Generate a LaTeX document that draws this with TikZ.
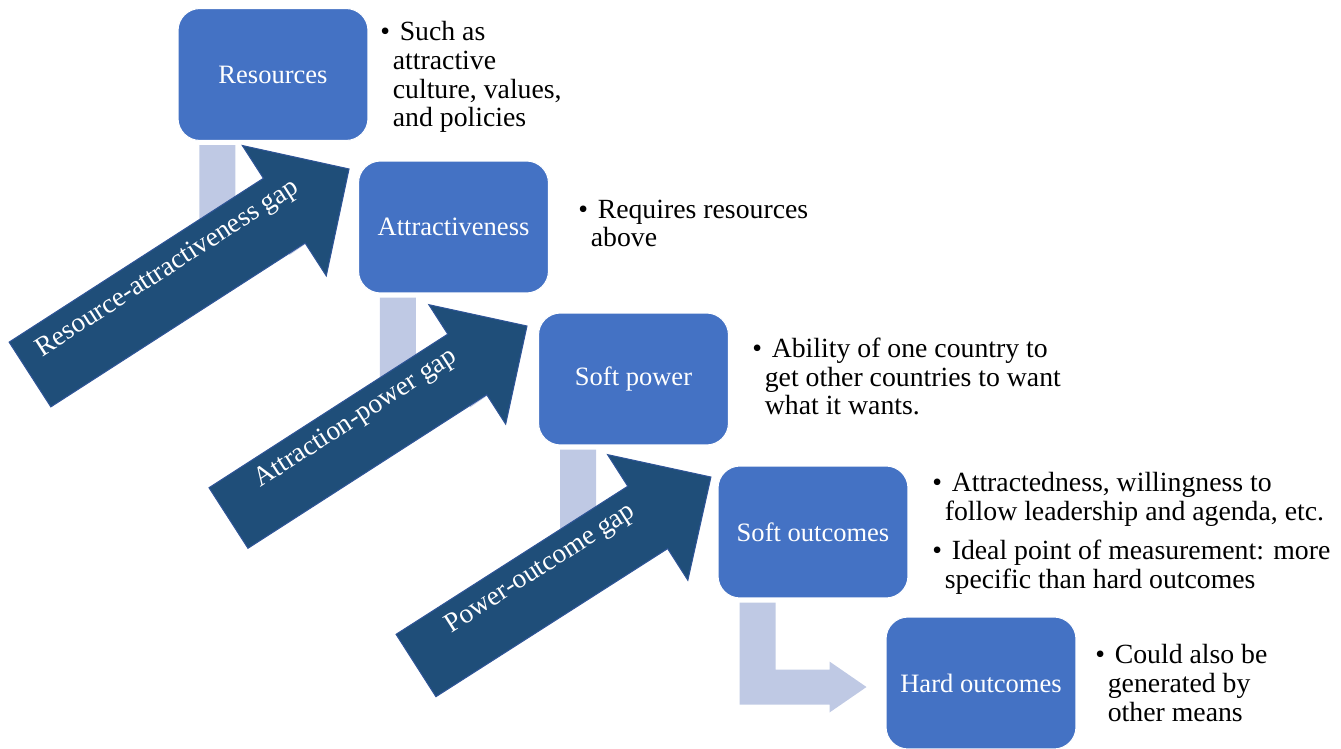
\documentclass[tikz,border=0pt]{standalone}
\usepackage{fontspec}
\setmainfont{Liberation Serif}
\usetikzlibrary{calc}

\definecolor{boxblue}{RGB}{68,114,196}
\definecolor{gapblue}{RGB}{31,78,121}
\definecolor{gapedge}{RGB}{47,85,151}
\definecolor{linkblue}{RGB}{191,201,228}

\newcommand{\bul}{\makebox[0.7em][l]{\textbullet}}
\newcommand{\ind}{\hspace*{0.45em}}

\begin{document}
\begin{tikzpicture}[x=0.02cm,y=-0.02cm,
  stage/.style={draw=white,line width=0.6pt,fill=boxblue,rounded corners=0.44cm,
    minimum width=3.8cm,minimum height=2.64cm,inner sep=0pt,text=white,
    font=\fontsize{15.1}{17}\selectfont},
  note/.style={align=left,anchor=base west,inner sep=0pt,
    font=\fontsize{15.8}{16.5}\selectfont},
  gap/.style={fill=gapblue,draw=gapedge,line width=0.6pt},
  gaplabel/.style={text=white,anchor=base,transform shape,inner sep=0pt,
    font=\fontsize{15.6}{17}\selectfont},
  link/.style={fill=linkblue}]
\useasboundingbox (0,0) rectangle (1341,749);

% the five stages
\node[stage] (res) at (273,74.5) {Resources};
\node[stage] (att) at (453.5,227) {Attractiveness};
\node[stage] (soft) at (633.5,379) {Soft power};
\node[stage] (softout) at (813,532) {Soft outcomes};
\node[stage] (hardout) at (981,683) {Hard outcomes};

% light bent links under the gaps
\fill[link] ($(res.south west)+(22,4)$) -- ++(36,0) -- ++(0,67) -- ++(54,0) -- ++(0,-8)
  -- ++(37,25.5) -- ++(-37,25.5) -- ++(0,-8) -- ++(-90,0) -- cycle;
\fill[link] ($(att.south west)+(22,4)$) -- ++(36,0) -- ++(0,67) -- ++(54,0) -- ++(0,-8)
  -- ++(37,25.5) -- ++(-37,25.5) -- ++(0,-8) -- ++(-90,0) -- cycle;
\fill[link] ($(soft.south west)+(22,4)$) -- ++(36,0) -- ++(0,67) -- ++(54,0) -- ++(0,-8)
  -- ++(37,25.5) -- ++(-37,25.5) -- ++(0,-8) -- ++(-90,0) -- cycle;
\fill[link] ($(softout.south west)+(22,4)$) -- ++(36,0) -- ++(0,67) -- ++(54,0) -- ++(0,-8)
  -- ++(37,25.5) -- ++(-37,25.5) -- ++(0,-8) -- ++(-90,0) -- cycle;

% the three gaps
\begin{scope}[shift={(30,374.5)},rotate=32.79]
\filldraw[gap] (0,-38.5) -- (302.5,-38.5) -- (302.5,-77.5) -- (379.5,0)
  -- (302.5,77.5) -- (302.5,38.5) -- (0,38.5) -- cycle;
\node[gaplabel] (gap1) at (173,-8) {Resource-attractiveness gap};
\end{scope}
\begin{scope}[shift={(228.5,518)},rotate=32.75]
\filldraw[gap] (0,-36) -- (283.9,-36) -- (283.9,-71) -- (354.9,0)
  -- (283.9,71) -- (283.9,36) -- (0,36) -- cycle;
\node[gaplabel] (gap2) at (161,-8) {Attraction-power gap};
\end{scope}
\begin{scope}[shift={(416,665.5)},rotate=32.58]
\filldraw[gap] (0,-37) -- (275,-37) -- (275,-74.5) -- (350,0)
  -- (275,74.5) -- (275,37) -- (0,37) -- cycle;
\node[gaplabel] (gap3) at (157,-8) {Power-outcome gap};
\end{scope}

% notes beside each stage (placed by the baseline of their last line)
\node[note] (res-note) at (380,127) {\bul Such as\\\ind attractive\\\ind culture, values,\\\ind and policies};
\node[note] (att-note) at (578,247) {\bul Requires resources\\\ind above};
\node[note] (soft-note) at (752,415) {\bul Ability of one country to\\\ind get other countries to want\\\ind what it wants.};
\node[note] (softout-note) at (932,588) {\bul Attractedness, willingness to\\\ind follow leadership and agenda, etc.\\[5.7pt]\bul Ideal point of measurement: more\\\ind specific than hard outcomes};
\node[note] (hardout-note) at (1095,721) {\bul Could also be\\\ind generated by\\\ind other means};
\end{tikzpicture}
\end{document}
